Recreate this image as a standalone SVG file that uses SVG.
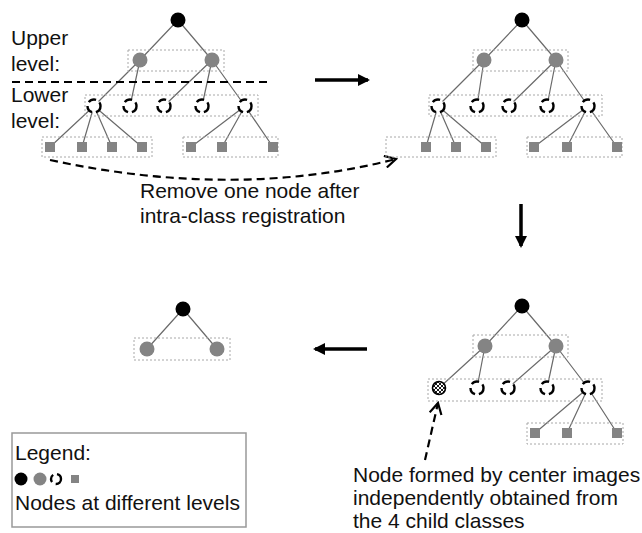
<svg xmlns="http://www.w3.org/2000/svg" width="642" height="533" viewBox="0 0 642 533">
<style>
text{font-family:"Liberation Sans",Arial,sans-serif;font-size:21px;fill:#111}
.e{stroke:#6a6a6a;stroke-width:1.2;fill:none}
.box{fill:none;stroke:#a8a8a8;stroke-width:1;stroke-dasharray:2,2}
.r{fill:#000}
.g{fill:#848484}
.d{fill:#fff;stroke:#000;stroke-width:2.4;stroke-dasharray:8,4}
.s{fill:#848484}
.big{stroke:#000;stroke-width:3.5;fill:none}
.dash{stroke:#000;stroke-width:2.2;fill:none;stroke-dasharray:8,5}
</style>
<defs>
<marker id="ah" markerWidth="12" markerHeight="12" refX="10" refY="6" orient="auto" markerUnits="userSpaceOnUse">
<path d="M0,0 L12,6 L0,12 Z" fill="#000"/>
</marker>
<marker id="oh" markerWidth="14" markerHeight="14" refX="12" refY="7" orient="auto" markerUnits="userSpaceOnUse">
<path d="M1,1 L12,7 L1,13" fill="none" stroke="#000" stroke-width="2.2"/>
</marker>
<pattern id="hatch" width="4" height="4" patternUnits="userSpaceOnUse">
<rect width="4" height="4" fill="#fff"/>
<path d="M0,0 L4,4 M4,0 L0,4" stroke="#000" stroke-width="0.9"/>
</pattern>
</defs>

<!-- Connectors -->
<g id="connectors">
<path class="e" d="M178,20 L140,60 M178,20 L212,60 M140,60 L94,106 M140,60 L130,106 M212,60 L164,106 M212,60 L202,106 M212,60 L245,106 M94,106 L50,147 M94,106 L82,147 M94,106 L112,147 M94,106 L142,147 M245,106 L191,147 M245,106 L222,147 M245,106 L273,147"/>
<path class="e" d="M522,20 L484,60 M522,20 L556,60 M484,60 L438,106 M484,60 L477,106 M556,60 L509,106 M556,60 L547,106 M556,60 L588,106 M438,106 L426,147 M438,106 L456,147 M438,106 L486,147 M588,106 L534,147 M588,106 L567,147 M588,106 L617,147"/>
<path class="e" d="M522,306 L485,346 M522,306 L556,346 M485,346 L439,388 M485,346 L477,388 M556,346 L508,388 M556,346 L547,388 M556,346 L588,388 M588,388 L535,433 M588,388 L567,433 M588,388 L617,433"/>
<path class="e" d="M183,309 L147,349 M183,309 L217,349"/>
<line class="dash" x1="12" y1="82" x2="270" y2="82"/>
<line class="big" x1="315" y1="80" x2="368" y2="80" marker-end="url(#ah)"/>
<line class="big" x1="521" y1="204" x2="521" y2="246" marker-end="url(#ah)"/>
<line class="big" x1="367" y1="349" x2="315" y2="349" marker-end="url(#ah)"/>
<path class="dash" d="M50,160 Q236,200 396,159" marker-end="url(#oh)"/>
<path class="dash" d="M425,460 L438,403" marker-end="url(#oh)"/>
</g>

<!-- Top-left tree nodes -->
<g id="tl-boxes">
<rect class="box" x="128" y="50" width="96" height="21"/>
<rect class="box" x="85" y="95" width="173" height="21"/>
<rect class="box" x="42" y="137" width="110" height="20"/>
<rect class="box" x="183" y="137" width="95" height="20"/>
</g>
<g id="tl-root"><circle class="r" cx="178" cy="20" r="7.5"/></g>
<g id="tl-upper"><circle class="g" cx="140" cy="60" r="7.5"/><circle class="g" cx="212" cy="60" r="7.5"/></g>
<g id="tl-lower">
<circle class="d" cx="94" cy="106" r="6.5"/><circle class="d" cx="130" cy="106" r="6.5"/><circle class="d" cx="164" cy="106" r="6.5"/><circle class="d" cx="202" cy="106" r="6.5"/><circle class="d" cx="245" cy="106" r="6.5"/>
</g>
<g id="tl-leaves">
<rect class="s" x="45" y="142" width="10" height="10"/><rect class="s" x="77" y="142" width="10" height="10"/><rect class="s" x="107" y="142" width="10" height="10"/><rect class="s" x="137" y="142" width="10" height="10"/>
<rect class="s" x="186" y="142" width="10" height="10"/><rect class="s" x="217" y="142" width="10" height="10"/><rect class="s" x="268" y="142" width="10" height="10"/>
</g>
<g id="tl-labels">
<text x="11" y="45">Upper</text>
<text x="11" y="71">level:</text>
<text x="11" y="102">Lower</text>
<text x="11" y="128">level:</text>
</g>

<!-- Top-right tree -->
<g id="tr-boxes">
<rect class="box" x="473" y="50" width="95" height="21"/>
<rect class="box" x="429" y="95" width="173" height="21"/>
<rect class="box" x="386" y="137" width="110" height="20"/>
<rect class="box" x="527" y="137" width="95" height="20"/>
</g>
<g id="tr-root"><circle class="r" cx="522" cy="20" r="7.5"/></g>
<g id="tr-upper"><circle class="g" cx="484" cy="60" r="7.5"/><circle class="g" cx="556" cy="60" r="7.5"/></g>
<g id="tr-lower">
<circle class="d" cx="438" cy="106" r="6.5"/><circle class="d" cx="477" cy="106" r="6.5"/><circle class="d" cx="509" cy="106" r="6.5"/><circle class="d" cx="547" cy="106" r="6.5"/><circle class="d" cx="588" cy="106" r="6.5"/>
</g>
<g id="tr-leaves">
<rect class="s" x="421" y="142" width="10" height="10"/><rect class="s" x="451" y="142" width="10" height="10"/><rect class="s" x="481" y="142" width="10" height="10"/>
<rect class="s" x="529" y="142" width="10" height="10"/><rect class="s" x="562" y="142" width="10" height="10"/><rect class="s" x="612" y="142" width="10" height="10"/>
</g>

<g id="remove-label">
<text x="140" y="198">Remove one node after</text>
<text x="140" y="223">intra-class registration</text>
</g>

<!-- Bottom-right tree -->
<g id="br-boxes">
<rect class="box" x="473" y="335" width="95" height="22"/>
<rect class="box" x="428" y="379" width="174" height="22"/>
<rect class="box" x="527" y="423" width="96" height="21"/>
</g>
<g id="br-root"><circle class="r" cx="522" cy="306" r="7.5"/></g>
<g id="br-upper"><circle class="g" cx="485" cy="346" r="7.5"/><circle class="g" cx="556" cy="346" r="7.5"/></g>
<g id="br-lower">
<circle cx="439" cy="388" r="6.5" fill="url(#hatch)" stroke="#000" stroke-width="1.6"/>
<circle class="d" cx="477" cy="388" r="6.5"/><circle class="d" cx="508" cy="388" r="6.5"/><circle class="d" cx="547" cy="388" r="6.5"/><circle class="d" cx="588" cy="388" r="6.5"/>
</g>
<g id="br-leaves">
<rect class="s" x="530" y="428" width="10" height="10"/><rect class="s" x="562" y="428" width="10" height="10"/><rect class="s" x="612" y="428" width="10" height="10"/>
</g>
<g id="node-label">
<text x="353" y="482">Node formed by center images</text>
<text x="353" y="505">independently obtained from</text>
<text x="353" y="528">the 4 child classes</text>
</g>

<!-- Bottom-left tree -->
<g id="bl-box"><rect class="box" x="134" y="338" width="96" height="22"/></g>
<g id="bl-root"><circle class="r" cx="183" cy="309" r="7.5"/></g>
<g id="bl-upper"><circle class="g" cx="147" cy="349" r="7.5"/><circle class="g" cx="217" cy="349" r="7.5"/></g>

<!-- Legend -->
<g id="legend">
<rect x="12" y="433" width="234" height="94" fill="none" stroke="#999" stroke-width="1.5"/>
<text x="15" y="460">Legend:</text>
<circle class="r" cx="21" cy="479" r="6.5"/>
<circle class="g" cx="40" cy="479" r="6.5"/>
<circle class="d" cx="56" cy="479" r="5" stroke-width="2" stroke-dasharray="7,3"/>
<rect class="s" x="71" y="475" width="8" height="8"/>
<text x="15" y="510">Nodes at different levels</text>
</g>
</svg>
